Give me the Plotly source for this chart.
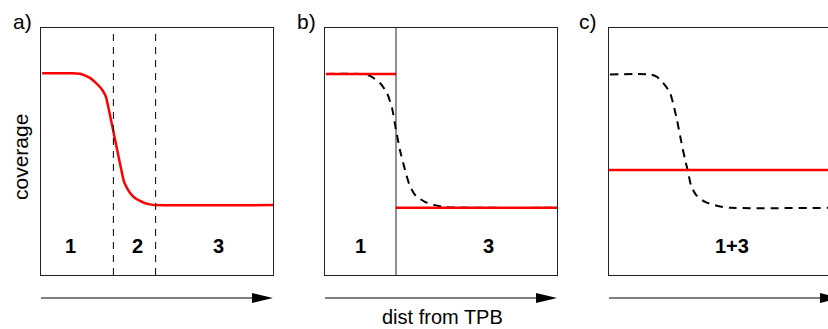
import plotly.graph_objects as go

# Panel a): coverage profile with three regions (x in 0..10, coverage in 0..1)
a_x = [0.05, 1.38, 1.72, 2.11, 2.33, 2.54, 2.67, 2.80, 3.58, 3.71, 3.84, 4.05, 4.27, 4.48, 4.70, 4.91, 10.0]
a_y = [0.817, 0.817, 0.814, 0.798, 0.781, 0.761, 0.745, 0.721, 0.377, 0.352, 0.332, 0.312, 0.300, 0.291, 0.286, 0.283, 0.283]
a_bounds = [3.12, 4.94]
a_labels = ["1", "2", "3"]
a_label_x = [1.25, 4.14, 7.67]

# Panel b): two-region step approximation over the smooth profile
b_split = 3.06
b_high = 0.814
b_low = 0.272
b_smooth_x = [0.04, 1.51, 1.94, 2.37, 2.67, 2.89, 3.06, 3.23, 3.45, 3.66, 3.92, 4.31, 4.74, 5.17, 10.0]
b_smooth_y = [0.814, 0.814, 0.806, 0.777, 0.737, 0.676, 0.587, 0.506, 0.425, 0.360, 0.320, 0.296, 0.283, 0.275, 0.272]
b_labels = ["1", "3"]
b_label_x = [1.55, 7.03]

# Panel c): single averaged region over the smooth profile
c_mean = 0.425
c_smooth_x = [0.04, 1.77, 2.07, 2.41, 2.63, 2.76, 2.93, 3.10, 3.28, 3.41, 3.53, 3.75, 4.14, 4.70, 5.22, 9.44]
c_smooth_y = [0.812, 0.812, 0.802, 0.769, 0.737, 0.696, 0.628, 0.547, 0.466, 0.417, 0.364, 0.324, 0.296, 0.279, 0.272, 0.272]
c_labels = ["1+3"]
c_label_x = [5.3]
label_y = 0.117

W, H = 828, 329
FONT = "Liberation Sans, Arial, Helvetica, sans-serif"
RED = "#ff0000"
BOX = "#222222"

# panel boxes in pixels: (left, right)
panels = [(41, 273), (325, 557), (609, 828)]
top_px, bottom_px = 28, 275


def px_x(p):
    return p / W


def px_y(p):
    return 1 - p / H


fig = go.Figure()

red_line = dict(color=RED, width=2.5)
red_curve = dict(color=RED, width=2.5, shape="spline", smoothing=0.4)
dash_line = dict(color="black", width=2, dash="8px,6px", shape="spline", smoothing=0.6)

# panel a
fig.add_trace(go.Scatter(x=a_x, y=a_y, mode="lines", line=red_curve, xaxis="x", yaxis="y"))
# panel b
fig.add_trace(go.Scatter(x=b_smooth_x, y=b_smooth_y, mode="lines", line=dash_line, xaxis="x2", yaxis="y2"))
fig.add_trace(go.Scatter(x=[0.04, b_split], y=[b_high, b_high], mode="lines", line=red_line, xaxis="x2", yaxis="y2"))
fig.add_trace(go.Scatter(x=[b_split, 10.0], y=[b_low, b_low], mode="lines", line=red_line, xaxis="x2", yaxis="y2"))
# panel c
fig.add_trace(go.Scatter(x=c_smooth_x, y=c_smooth_y, mode="lines", line=dash_line, xaxis="x3", yaxis="y3"))
fig.add_trace(go.Scatter(x=[0.0, 9.44], y=[c_mean, c_mean], mode="lines", line=red_line, xaxis="x3", yaxis="y3"))

axis_common = dict(showgrid=False, zeroline=False, showticklabels=False, ticks="",
                   showline=True, linecolor=BOX, linewidth=1)
ydom = [px_y(bottom_px), px_y(top_px)]
xranges = [[0, 10], [0, 10], [0, (panels[2][1] - panels[2][0]) / 23.2]]
layout_axes = {}
for i, (l, r) in enumerate(panels):
    sfx = "" if i == 0 else str(i + 1)
    layout_axes["xaxis" + sfx] = dict(axis_common, domain=[px_x(l), px_x(r)], range=xranges[i],
                                       mirror=True, anchor="y" + sfx)
    layout_axes["yaxis" + sfx] = dict(axis_common, domain=ydom, range=[0, 1],
                                       mirror=(i < 2), anchor="x" + sfx)

shapes = []
# region boundaries in panel a
for xb in a_bounds:
    shapes.append(dict(type="line", xref="x", yref="y", x0=xb, x1=xb, y0=0, y1=1,
                       line=dict(color="black", width=1, dash="7px,6px")))
# region boundary in panel b
shapes.append(dict(type="line", xref="x2", yref="y2", x0=b_split, x1=b_split, y0=0, y1=1,
                   line=dict(color=BOX, width=1)))

# distance arrows under each panel
arrow_y = 298
for l, r in panels:
    full_r = l + 232
    head0 = full_r - 21
    shapes.append(dict(type="line", xref="paper", yref="paper",
                       x0=px_x(l), x1=px_x(head0 + 2), y0=px_y(arrow_y), y1=px_y(arrow_y),
                       line=dict(color="black", width=1)))
    shapes.append(dict(type="path", xref="paper", yref="paper",
                       path=f"M {px_x(head0)} {px_y(arrow_y - 5)} L {px_x(full_r)} {px_y(arrow_y)} "
                            f"L {px_x(head0)} {px_y(arrow_y + 5)} Z",
                       fillcolor="black", line=dict(color="black", width=0)))

annotations = []
num_font = dict(family=FONT, size=20, color="black")
for labels, xs, ref in [(a_labels, a_label_x, "1"), (b_labels, b_label_x, "2"), (c_labels, c_label_x, "3")]:
    xr = "x" if ref == "1" else "x" + ref
    yr = "y" if ref == "1" else "y" + ref
    for t, xv in zip(labels, xs):
        annotations.append(dict(x=xv, y=label_y, xref=xr, yref=yr, text=f"<b>{t}</b>",
                                showarrow=False, font=num_font, xanchor="center", yanchor="middle"))

txt_font = dict(family=FONT, size=21, color="black")
for t, cx in [("a)", 22), ("b)", 306), ("c)", 588)]:
    annotations.append(dict(x=px_x(cx), y=px_y(22), xref="paper", yref="paper", text=t,
                            showarrow=False, font=txt_font, xanchor="center", yanchor="middle"))
annotations.append(dict(x=px_x(20), y=px_y(157), xref="paper", yref="paper", text="coverage",
                        textangle=-90, showarrow=False, font=txt_font,
                        xanchor="center", yanchor="middle"))
annotations.append(dict(x=px_x(442), y=px_y(317), xref="paper", yref="paper", text="dist from TPB",
                        showarrow=False, font=dict(family=FONT, size=20, color="black"),
                        xanchor="center", yanchor="middle"))

fig.update_layout(
    width=W, height=H,
    margin=dict(l=0, r=0, t=0, b=0),
    paper_bgcolor="white", plot_bgcolor="white",
    showlegend=False,
    shapes=shapes,
    annotations=annotations,
    **layout_axes,
)

fig.write_html("out.html", config={"displayModeBar": False})
